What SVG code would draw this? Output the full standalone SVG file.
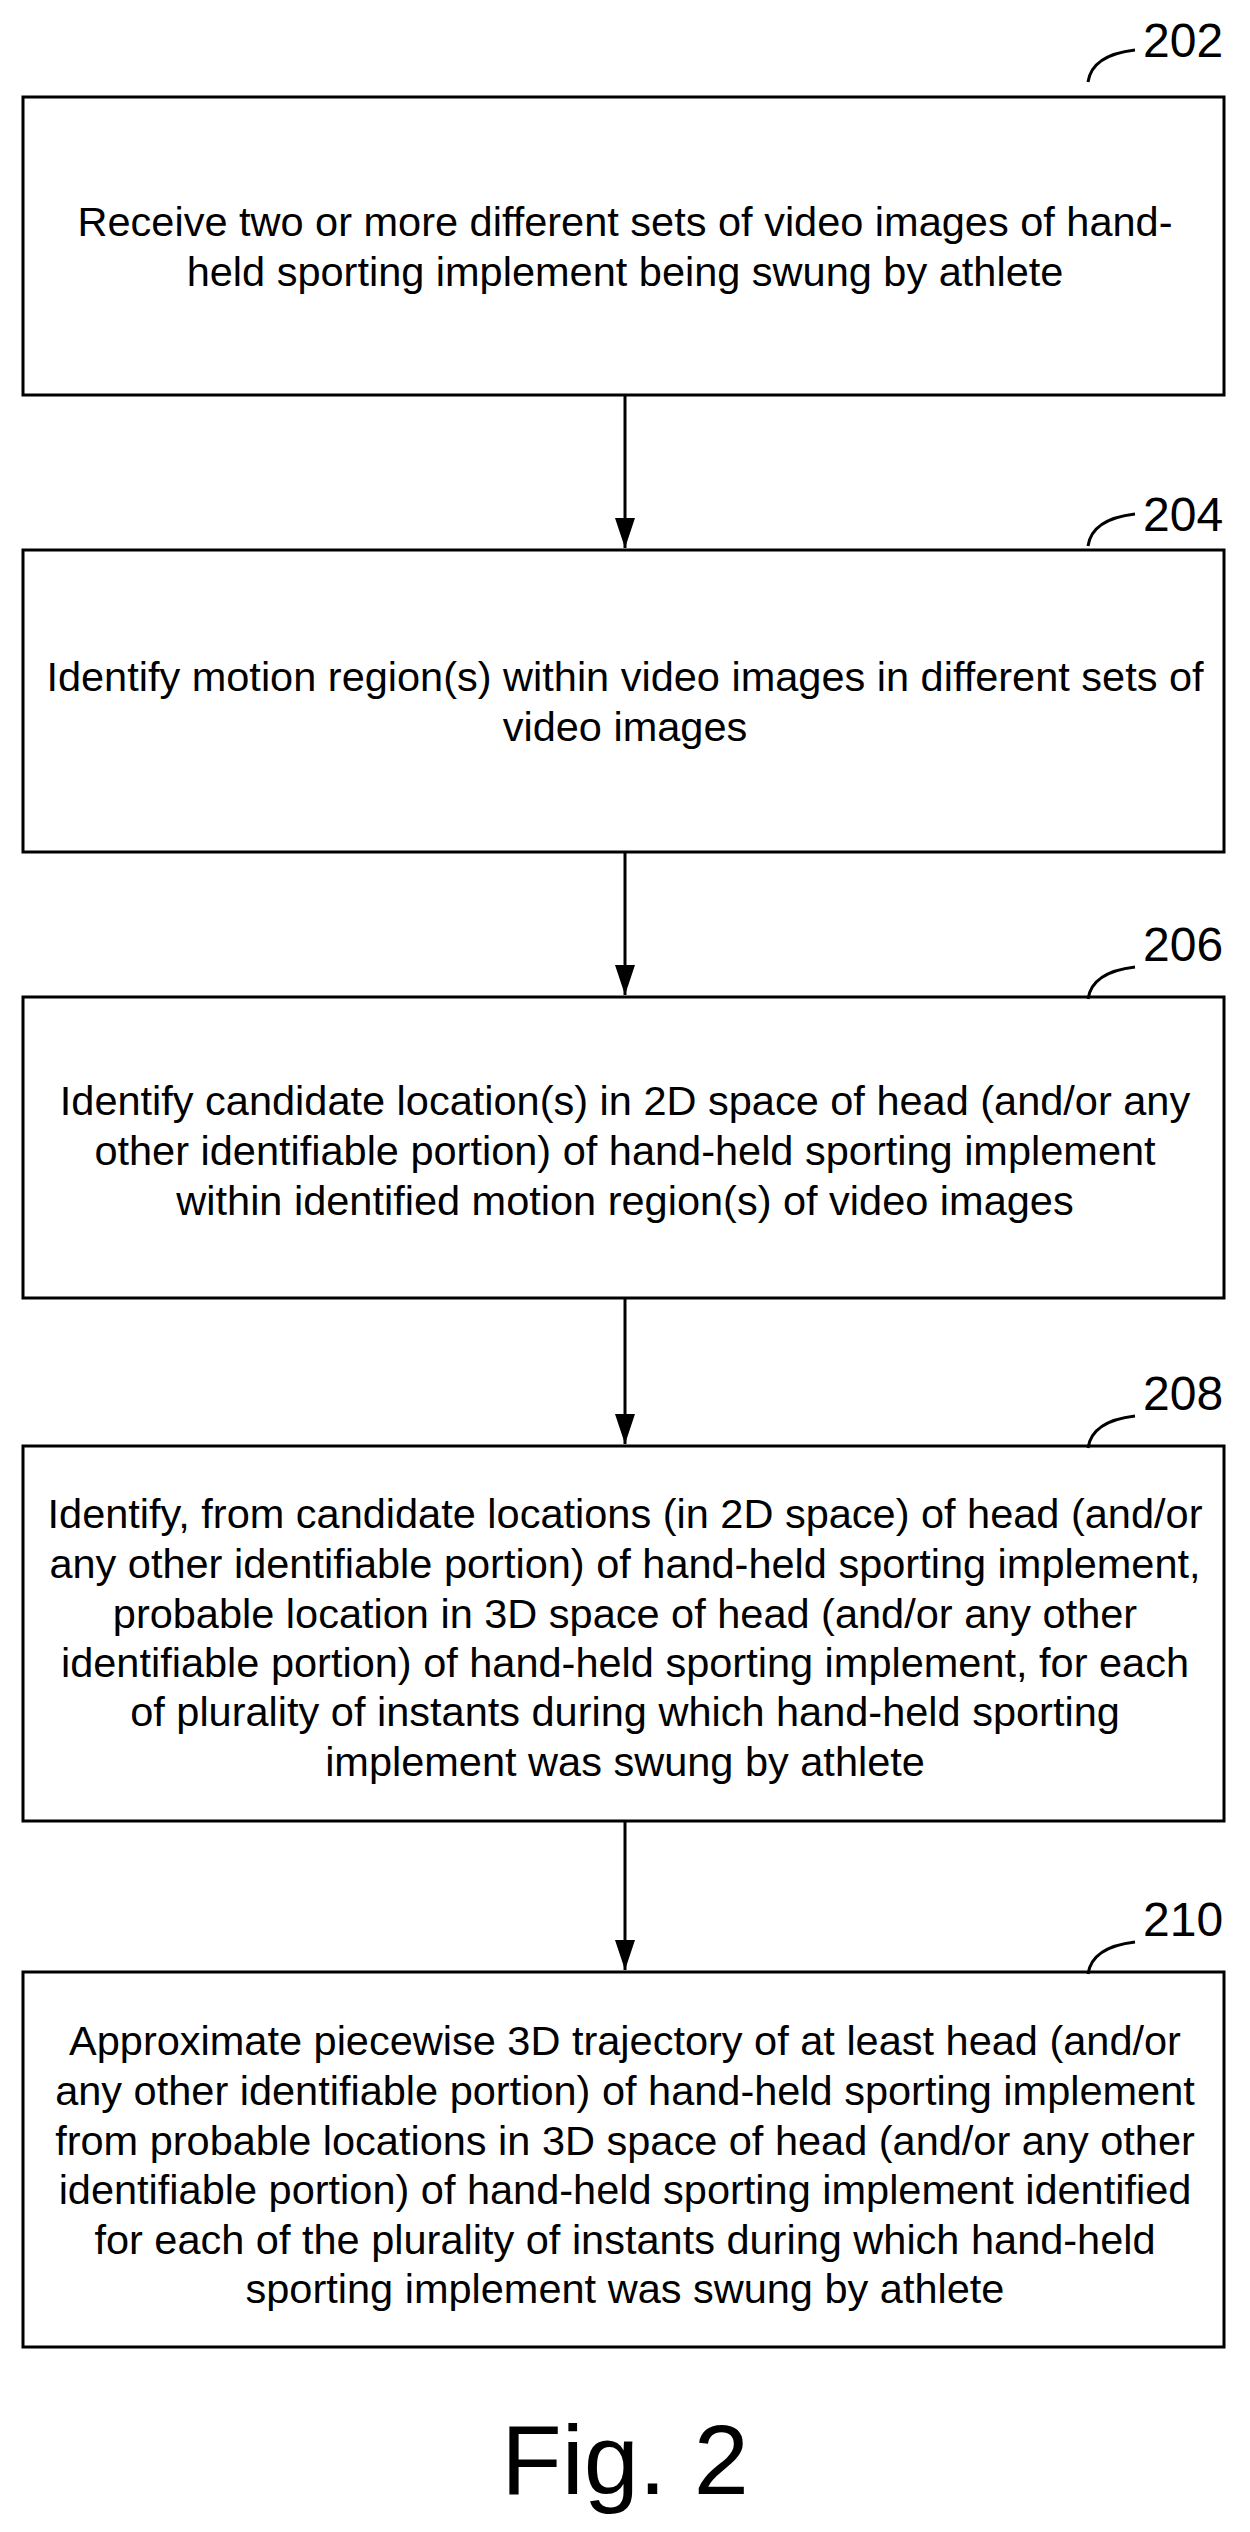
<svg xmlns="http://www.w3.org/2000/svg" width="1250" height="2532" viewBox="0 0 1250 2532">
<style>
.box{fill:#fff;stroke:#000;stroke-width:3}
.t{font-family:"Liberation Sans",Arial,sans-serif;font-size:41.5px;text-anchor:middle;fill:#000}
.lbl{font-family:"Liberation Sans",Arial,sans-serif;font-size:48px;fill:#000}
.hook{fill:none;stroke:#000;stroke-width:3}
</style>
<defs>
<marker id="a" viewBox="0 0 20 30" markerWidth="20" markerHeight="30" refX="10" refY="30" orient="0" markerUnits="userSpaceOnUse"><path d="M0,0 L20,0 L10,30 Z" fill="#000"/></marker></defs>
<rect width="1250" height="2532" fill="#fff"/>
<g id="connectors">
<line x1="625" y1="395" x2="625" y2="548" stroke="#000" stroke-width="3" marker-end="url(#a)"/>
<line x1="625" y1="852" x2="625" y2="995" stroke="#000" stroke-width="3" marker-end="url(#a)"/>
<line x1="625" y1="1298" x2="625" y2="1444" stroke="#000" stroke-width="3" marker-end="url(#a)"/>
<line x1="625" y1="1821" x2="625" y2="1970" stroke="#000" stroke-width="3" marker-end="url(#a)"/>
</g>
<g id="n202"><rect class="box" x="23" y="97" width="1201" height="298"/>
<text class="t" x="625" y="236">Receive two or more different sets of video images of hand-</text>
<text class="t" x="625" y="286">held sporting implement being swung by athlete</text>
<path class="hook" d="M1088,82 Q1092,55 1135,50"/><text class="lbl" x="1143" y="57">202</text></g>
<g id="n204"><rect class="box" x="23" y="550" width="1201" height="302"/>
<text class="t" x="625" y="691">Identify motion region(s) within video images in different sets of</text>
<text class="t" x="625" y="741">video images</text>
<path class="hook" d="M1088,546 Q1092,519 1135,514"/><text class="lbl" x="1143" y="531">204</text></g>
<g id="n206"><rect class="box" x="23" y="997" width="1201" height="301"/>
<text class="t" x="625" y="1115">Identify candidate location(s) in 2D space of head (and/or any</text>
<text class="t" x="625" y="1165">other identifiable portion) of hand-held sporting implement</text>
<text class="t" x="625" y="1215">within identified motion region(s) of video images</text>
<path class="hook" d="M1088,999 Q1092,972 1135,967"/><text class="lbl" x="1143" y="961">206</text></g>
<g id="n208"><rect class="box" x="23" y="1446" width="1201" height="375"/>
<text class="t" x="625" y="1528">Identify, from candidate locations (in 2D space) of head (and/or</text>
<text class="t" x="625" y="1578">any other identifiable portion) of hand-held sporting implement,</text>
<text class="t" x="625" y="1628">probable location in 3D space of head (and/or any other</text>
<text class="t" x="625" y="1677">identifiable portion) of hand-held sporting implement, for each</text>
<text class="t" x="625" y="1726">of plurality of instants during which hand-held sporting</text>
<text class="t" x="625" y="1776">implement was swung by athlete</text>
<path class="hook" d="M1088,1448 Q1092,1421 1135,1416"/><text class="lbl" x="1143" y="1410">208</text></g>
<g id="n210"><rect class="box" x="23" y="1972" width="1201" height="375"/>
<text class="t" x="625" y="2055">Approximate piecewise 3D trajectory of at least head (and/or</text>
<text class="t" x="625" y="2105">any other identifiable portion) of hand-held sporting implement</text>
<text class="t" x="625" y="2155">from probable locations in 3D space of head (and/or any other</text>
<text class="t" x="625" y="2204">identifiable portion) of hand-held sporting implement identified</text>
<text class="t" x="625" y="2254">for each of the plurality of instants during which hand-held</text>
<text class="t" x="625" y="2303">sporting implement was swung by athlete</text>
<path class="hook" d="M1088,1974 Q1092,1947 1135,1942"/><text class="lbl" x="1143" y="1936">210</text></g>
<text x="625" y="2494" font-family="Liberation Sans,Arial,sans-serif" font-size="99" text-anchor="middle">Fig. 2</text>
</svg>
